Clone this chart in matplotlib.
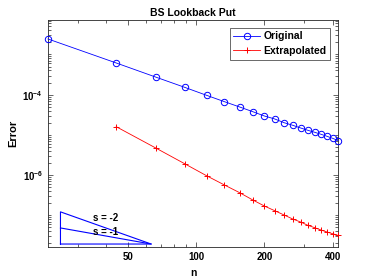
import numpy as np
import matplotlib
matplotlib.use("Agg")
import matplotlib.pyplot as plt
from matplotlib.ticker import FixedLocator, LogLocator, NullFormatter, FixedFormatter

plt.rcParams['font.family'] = ['Liberation Sans', 'DejaVu Sans']
plt.rcParams['font.weight'] = 'bold'
plt.rcParams['mathtext.fontset'] = 'custom'
plt.rcParams['mathtext.rm'] = 'Liberation Sans:bold'
plt.rcParams['mathtext.bf'] = 'Liberation Sans:bold'
plt.rcParams['mathtext.it'] = 'Liberation Sans:bold'

n_orig = [22.2, 44.4, 66.7, 88.9, 111.1, 133.3, 155.6, 177.8, 200, 222.2, 244.4, 266.7, 288.9,
          311.1, 333.3, 355.6, 377.8, 400, 422.2]
log_err_orig = [-2.614, -3.211, -3.567, -3.816, -4.015, -4.174, -4.306, -4.423, -4.530, -4.604,
                -4.697, -4.761, -4.828, -4.886, -4.935, -4.985, -5.035, -5.085, -5.140]
n_extrap = [44.4, 66.7, 88.9, 111.1, 133.3, 155.6, 177.8, 200, 222.2, 244.4, 266.7, 288.9,
            311.1, 333.3, 355.6, 377.8, 400, 422.2]
log_err_extrap = [-4.796, -5.333, -5.716, -6.015, -6.246, -6.438, -6.619, -6.769, -6.886, -6.993,
                  -7.092, -7.167, -7.249, -7.308, -7.366, -7.415, -7.458, -7.498]
err_orig = [10 ** v for v in log_err_orig]
err_extrap = [10 ** v for v in log_err_extrap]

# slope triangle
tri_x0, tri_x1 = 25.2, 63.3
tri_y0 = 10 ** -7.714
slopes = [-2, -1]

xticks = [50, 100, 200, 400]
xticklabels = ['50', '100', '200', '400']
yticks = [1e-6, 1e-4]
yticklabels = [r'$10^{-6}$', r'$10^{-4}$']

fig = plt.figure(figsize=(3.74, 2.8), dpi=100)
ax = fig.add_axes([0.1283, 0.119, 0.9037 - 0.1283, 0.9286 - 0.119])

blue = '#0000ff'
red = '#ff0000'
ax.plot(n_orig, err_orig, '-o', color=blue, lw=0.6, ms=4.6, mfc='none', mew=0.7,
        label='Original', clip_on=False, zorder=3)
ax.plot(n_extrap, err_extrap, '-+', color=red, lw=0.6, ms=5, mew=0.7,
        label='Extrapolated', clip_on=False, zorder=3)

ratio = tri_x1 / tri_x0
ax.plot([tri_x0, tri_x0, tri_x1, tri_x0], [tri_y0, tri_y0 * ratio ** 2, tri_y0, tri_y0], color=blue, lw=0.8)
ax.plot([tri_x0, tri_x1], [tri_y0 * ratio, tri_y0], color=blue, lw=0.8)
ax.text(39.7, tri_y0 * ratio ** 1.63, 's = %d' % slopes[0], fontsize=7, fontweight='bold', ha='center', va='center')
ax.text(39.7, tri_y0 * ratio ** 0.77, 's = %d' % slopes[1], fontsize=7, fontweight='bold', ha='center', va='center')

ax.set_xscale('log')
ax.set_yscale('log')
ax.set_xlim(min(n_orig), max(n_orig))
ax.set_ylim(10 ** -7.78, 10 ** -2.142)

ax.xaxis.set_major_locator(FixedLocator(xticks))
ax.xaxis.set_major_formatter(FixedFormatter(xticklabels))
ax.xaxis.set_minor_locator(LogLocator(base=10, subs=np.arange(1, 10), numticks=20))
ax.xaxis.set_minor_formatter(NullFormatter())
ax.yaxis.set_major_locator(FixedLocator(yticks))
ax.yaxis.set_major_formatter(FixedFormatter(yticklabels))
ax.yaxis.set_minor_locator(LogLocator(base=10, subs=np.arange(1, 10), numticks=20))
ax.yaxis.set_minor_formatter(NullFormatter())

frame = '#262626'
for sp in ax.spines.values():
    sp.set_color(frame)
    sp.set_linewidth(0.6)
ax.tick_params(which='both', direction='in', top=True, right=True, colors=frame, width=0.5,
               labelsize=7, labelcolor='black')
ax.tick_params(which='major', length=3.5)
ax.tick_params(which='minor', length=2)

ax.set_title('BS Lookback Put', fontsize=7.5, fontweight='bold', pad=3)
ax.set_xlabel('n', fontsize=7.5, fontweight='bold', labelpad=5)
ax.set_ylabel('Error', fontsize=8, fontweight='bold', labelpad=3)

leg = ax.legend(loc='upper right', frameon=True, fancybox=False, edgecolor=frame,
                handlelength=2.6, borderaxespad=0.75, handletextpad=0.3, labelspacing=0.45,
                borderpad=0.35, prop={'weight': 'bold', 'size': 7.5})
leg.get_frame().set_linewidth(0.6)

fig.savefig('out.png', dpi=100)
